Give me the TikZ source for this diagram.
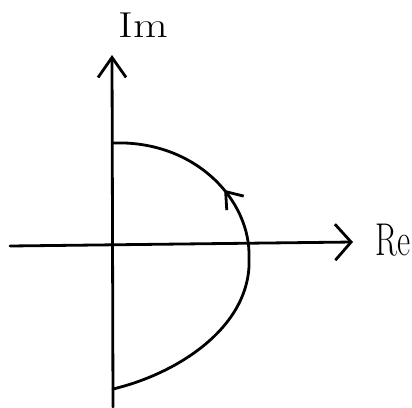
\documentclass[tikz,border=0pt]{standalone}
\usetikzlibrary{arrows.meta,decorations.markings}
\begin{document}
\begin{tikzpicture}[x=1pt,y=-1pt,
  ink/.style={line width=2.8pt,line cap=round,line join=round},
  vbarb/.style={-{Straight Barb[length=20pt,width=28pt,line width=2.8pt]}},
  hbarb/.style={-{Straight Barb[length=16pt,width=36pt,line width=2.8pt]}},
  lbl/.style={inner sep=0pt}]
\useasboundingbox (0,0) rectangle (412,407);
\coordinate (ybot) at (113,407);
\coordinate (ytop) at (112,55);
\coordinate (xleft) at (10,246);
\coordinate (xright) at (353,242);
\coordinate (ctop) at (113,143);
\coordinate (cright) at (249,258);
\coordinate (cbot) at (113,389);
\draw[ink,vbarb] (ybot) -- (ytop);
\draw[ink,hbarb] (xleft) -- (xright);
\node[lbl,font=\fontsize{36}{36}\selectfont,xscale=1.25] (im) at (143,25) {Im};
\node[lbl,font=\fontsize{46}{46}\selectfont,xscale=0.7] (re) at (393,240) {Re};
\draw[ink,postaction={decorate},decoration={markings,
  mark=at position 0.69 with {\arrow{Straight Barb[length=15pt,width=22pt,line width=2.8pt]}}}]
  (cbot) .. controls (180,373) and (252,325) .. (cright)
  .. controls (251,200) and (195,140) .. (ctop);
\end{tikzpicture}
\end{document}
